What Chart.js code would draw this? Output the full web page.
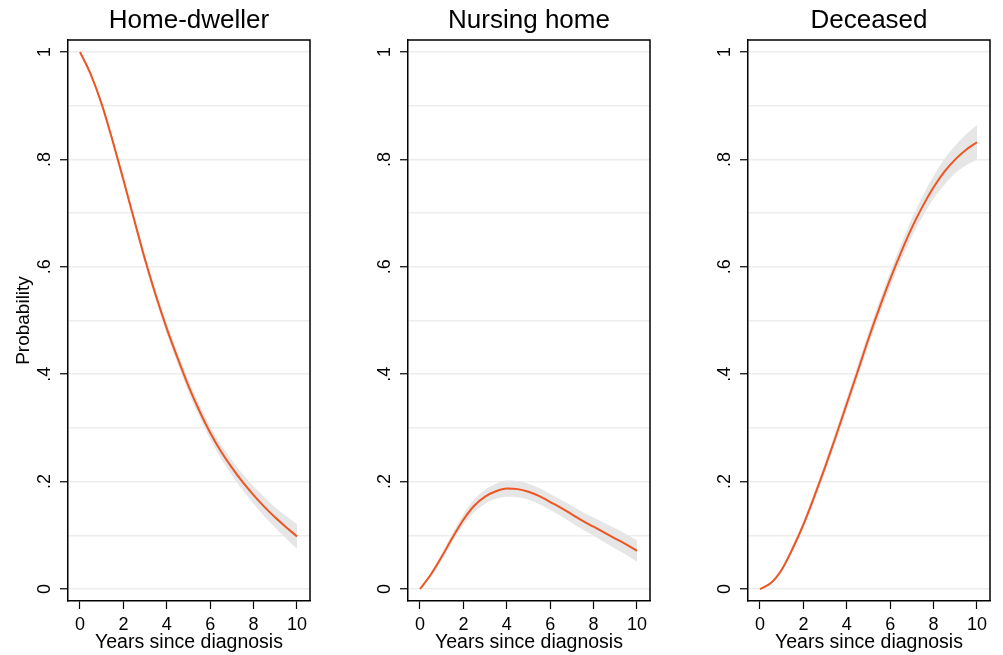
<!DOCTYPE html>
<html>
<head>
<meta charset="utf-8">
<script src="https://cdn.jsdelivr.net/npm/chart.js@4"></script>
<style>
  html, body { margin: 0; padding: 0; background: #fff; overflow: hidden; }
  #wrap { position: relative; width: 1003px; height: 655px; overflow: hidden; }
  canvas { position: absolute; top: 0; }
</style>
</head>
<body>
<div id="wrap">
  <canvas id="chart1" width="378" height="655" style="left:0px"></canvas>
  <canvas id="chart2" width="378" height="655" style="left:340px"></canvas>
  <canvas id="chart3" width="378" height="655" style="left:680px"></canvas>
</div>
<script>
const years = [0, 0.5, 1, 1.5, 2, 2.5, 3, 3.5, 4, 4.5, 5, 5.5, 6, 6.5, 7, 7.5, 8, 8.5, 9, 9.5, 10]

const home = [1.0, 0.958, 0.903, 0.835, 0.762, 0.687, 0.613, 0.546, 0.485, 0.430, 0.378, 0.332, 0.291, 0.256, 0.226, 0.199, 0.175, 0.153, 0.133, 0.115, 0.098]
const homeLo = [1.0, 0.955, 0.898, 0.829, 0.755, 0.679, 0.604, 0.537, 0.475, 0.420, 0.367, 0.321, 0.279, 0.243, 0.212, 0.184, 0.159, 0.135, 0.114, 0.094, 0.075]
const homeHi = [1.0, 0.961, 0.908, 0.841, 0.769, 0.695, 0.622, 0.555, 0.495, 0.440, 0.389, 0.343, 0.303, 0.269, 0.240, 0.214, 0.191, 0.171, 0.152, 0.136, 0.121]

const nursing = [0, 0.027, 0.060, 0.096, 0.129, 0.155, 0.172, 0.182, 0.187, 0.186, 0.181, 0.173, 0.162, 0.151, 0.139, 0.127, 0.116, 0.105, 0.094, 0.083, 0.071]
const nursingLo = [0, 0.023, 0.054, 0.088, 0.119, 0.143, 0.159, 0.168, 0.172, 0.171, 0.166, 0.158, 0.147, 0.136, 0.123, 0.111, 0.099, 0.087, 0.075, 0.064, 0.051]
const nursingHi = [0, 0.031, 0.066, 0.104, 0.139, 0.167, 0.185, 0.196, 0.202, 0.201, 0.196, 0.188, 0.177, 0.166, 0.155, 0.143, 0.133, 0.123, 0.113, 0.102, 0.091]

const deceased = [0, 0.011, 0.036, 0.075, 0.120, 0.172, 0.227, 0.285, 0.345, 0.405, 0.466, 0.523, 0.577, 0.627, 0.673, 0.713, 0.748, 0.777, 0.800, 0.818, 0.832]
const deceasedLo = [0, 0.009, 0.032, 0.069, 0.113, 0.164, 0.218, 0.275, 0.334, 0.393, 0.454, 0.510, 0.563, 0.612, 0.656, 0.694, 0.727, 0.753, 0.774, 0.789, 0.800]
const deceasedHi = [0, 0.013, 0.040, 0.081, 0.127, 0.180, 0.236, 0.295, 0.356, 0.417, 0.478, 0.536, 0.591, 0.642, 0.690, 0.732, 0.769, 0.801, 0.826, 0.847, 0.864]

const xTitle = 'Years since diagnosis'
const yTitle = 'Probability'

Chart.defaults.font.family = '"Liberation Sans", Arial, Helvetica, sans-serif'
Chart.defaults.color = '#000'

const lineColor = '#ee5522'
const bandColor = '#e6e6e6'

// draws top and right edges of the frame
const boxPlugin = {
  id: 'box',
  afterDraw(chart) {
    const { ctx, chartArea } = chart
    ctx.save()
    ctx.strokeStyle = '#000'
    ctx.lineWidth = 1.5
    ctx.beginPath()
    ctx.moveTo(chartArea.left, chartArea.top)
    ctx.lineTo(chartArea.right, chartArea.top)
    ctx.lineTo(chartArea.right, chartArea.bottom)
    ctx.stroke()
    ctx.restore()
  }
}

const pts = vals => years.map((x, i) => ({ x, y: vals[i] }))

function drawPanel(id, title, vals, lo, hi, showYTitle) {
  const data = {
    datasets: [
      { data: pts(vals), borderColor: lineColor, borderWidth: 2, pointRadius: 0, cubicInterpolationMode: 'monotone', fill: false },
      { data: pts(hi), borderWidth: 0, pointRadius: 0, cubicInterpolationMode: 'monotone', backgroundColor: bandColor, fill: '+1' },
      { data: pts(lo), borderWidth: 0, pointRadius: 0, cubicInterpolationMode: 'monotone', fill: false }
    ]
  }

  const options = {
    responsive: false,
    animation: false,
    devicePixelRatio: 1,
    layout: { padding: { left: 0, right: 68, top: 0, bottom: 0 } },
    plugins: {
      legend: { display: false },
      tooltip: { enabled: false },
      title: {
        display: true,
        fullSize: false,
        text: title,
        color: '#000',
        font: { size: 26, weight: 'normal' },
        padding: { top: 5, bottom: 3.8 }
      }
    },
    scales: {
      x: {
        type: 'linear',
        min: -0.553,
        max: 10.6,
        afterFit: s => { s.height = 54 },
        border: { display: true, color: '#000', width: 1.5 },
        grid: { drawOnChartArea: false, drawTicks: true, tickLength: 8, tickColor: '#000', tickWidth: 1.2 },
        ticks: { stepSize: 2, includeBounds: false, autoSkip: false, padding: 5, maxRotation: 0, font: { size: 18 } },
        title: { display: true, text: xTitle, font: { size: 19.5 }, padding: { top: 0, bottom: 1 } }
      },
      y: {
        min: -0.0223,
        max: 1.0223,
        afterFit: s => { s.width = 68 },
        border: { display: true, color: '#000', width: 1.5 },
        grid: {
          color: '#ededed',
          lineWidth: 1.5,
          tickLength: 8,
          tickWidth: 1.2,
          tickColor: ctx => (Math.round(ctx.tick.value * 10) % 2 === 0 ? '#000' : 'rgba(0,0,0,0)')
        },
        ticks: {
          stepSize: 0.1,
          includeBounds: false,
          autoSkip: false,
          minRotation: 90,
          maxRotation: 90,
          crossAlign: 'center',
          padding: 7.5,
          font: { size: 18 },
          callback: v => {
            const t = Math.round(v * 10)
            if (t % 2 !== 0) return ''
            if (t === 0) return '0'
            if (t === 10) return '1'
            return '.' + t
          }
        },
        title: { display: showYTitle, text: yTitle, font: { size: 19 }, padding: { top: 12, bottom: 0 } }
      }
    }
  }

  new Chart(id, { type: 'line', data, options, plugins: [boxPlugin] })
}

drawPanel('chart1', 'Home-dweller', home, homeLo, homeHi, true)
drawPanel('chart2', 'Nursing home', nursing, nursingLo, nursingHi, false)
drawPanel('chart3', 'Deceased', deceased, deceasedLo, deceasedHi, false)
</script>
</body>
</html>
